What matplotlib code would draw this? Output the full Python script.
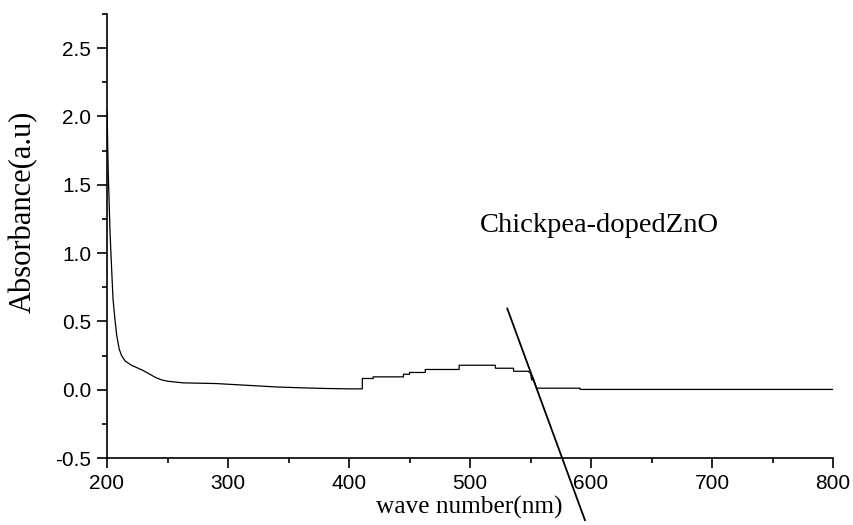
import matplotlib
matplotlib.use("Agg")
import matplotlib.pyplot as plt
from matplotlib.ticker import MultipleLocator, FormatStrFormatter

plt.rcParams['axes.unicode_minus'] = False

# UV-Vis absorbance spectrum (vertical jumps repeat the wavelength)
wavelength = [200, 201, 202.5, 204, 205, 206.5, 208, 210, 212, 215, 220, 225,
              230, 235, 240, 245, 250, 263, 290, 320, 340, 360, 380, 400,
              411, 411, 420, 420, 445, 445, 450, 450, 463, 463, 491, 491,
              521, 521, 536, 536, 548, 550, 551, 552, 555, 591, 591, 800]
absorbance = [2.05, 1.60, 1.15, 0.85, 0.66, 0.52, 0.40, 0.30, 0.25, 0.21, 0.18, 0.16,
              0.14, 0.115, 0.09, 0.072, 0.062, 0.05, 0.045, 0.03, 0.02, 0.014, 0.009, 0.006,
              0.006, 0.082, 0.082, 0.094, 0.094, 0.113, 0.113, 0.126, 0.126, 0.148, 0.148, 0.179,
              0.179, 0.157, 0.157, 0.135, 0.135, 0.12, 0.07, 0.09, 0.011, 0.011, 0.002, 0.002]

# Tangent line used for the band-edge estimate
tangent_x = [530.8, 595.0]
tangent_y = [0.594, -0.955]

sample_label = "Chickpea-dopedZnO"
x_label = "wave number(nm)"
y_label = "Absorbance(a.u)"

W, H = 854, 525
fig = plt.figure(figsize=(W / 100, H / 100), dpi=100)
left, right, top, bottom = 107, 833, 14, 458
ax = fig.add_axes([left / W, 1 - bottom / H, (right - left) / W, (bottom - top) / H])

ax.plot(wavelength, absorbance, color="black", lw=0.9)
ax.plot(tangent_x, tangent_y, color="black", lw=1.3, clip_on=False)

ax.set_xlim(200, 800)
ax.set_ylim(-0.5, 2.75)

for s in ("top", "right"):
    ax.spines[s].set_visible(False)
for s in ("left", "bottom"):
    ax.spines[s].set_linewidth(1.2)

ax.xaxis.set_major_locator(MultipleLocator(100))
ax.xaxis.set_minor_locator(MultipleLocator(50))
ax.yaxis.set_major_locator(MultipleLocator(0.5))
ax.yaxis.set_minor_locator(MultipleLocator(0.25))
ax.yaxis.set_major_formatter(FormatStrFormatter("%.1f"))

ax.tick_params(which="major", direction="out", length=7, width=1.2, pad=4.5)
ax.tick_params(which="minor", direction="out", length=3.5, width=1.2)
for lab in ax.get_xticklabels() + ax.get_yticklabels():
    lab.set_fontfamily("Liberation Sans")
    lab.set_fontsize(15)

ax.text(508.3, 1.153, sample_label, family="Liberation Serif", fontsize=20.5,
        ha="left", va="baseline")

fig.text(469 / W, 1 - 507 / H, x_label, family="Liberation Serif", fontsize=18.3,
         ha="center", va="center")
fig.text(23 / W, 1 - 212 / H, y_label, family="Liberation Serif", fontsize=22,
         ha="center", va="center", rotation=90)

fig.savefig("out.png", dpi=100)
